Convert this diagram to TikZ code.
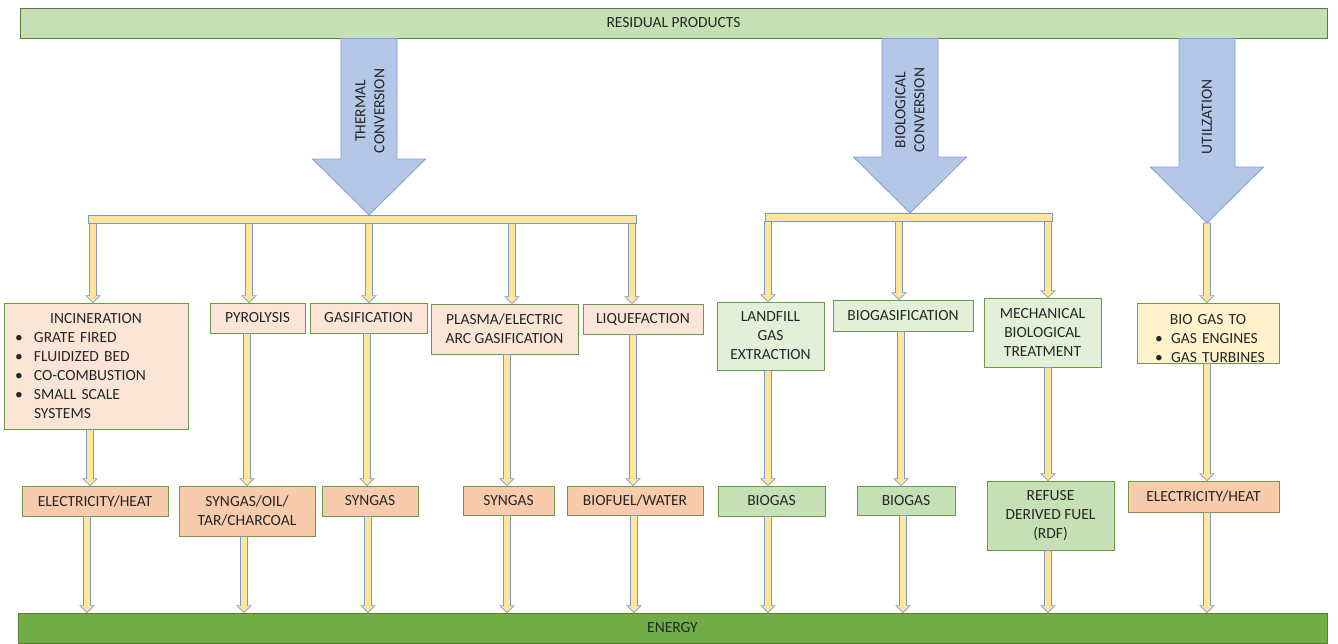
\documentclass[tikz,border=0pt]{standalone}
\usepackage{fontspec}
\setmainfont{Carlito}
\usepackage{tikz}
\usetikzlibrary{calc}
\definecolor{barfill}{HTML}{C5E0B4}
\definecolor{boxline}{HTML}{6A9A45}
\definecolor{thermfill}{HTML}{FBE5D6}
\definecolor{thermout}{HTML}{F8CBAD}
\definecolor{biofill}{HTML}{E2F0D9}
\definecolor{bioout}{HTML}{C5E0B4}
\definecolor{utilfill}{HTML}{FFF2CC}
\definecolor{energyfill}{HTML}{70AD47}
\definecolor{energyline}{HTML}{548235}
\definecolor{bigfill}{HTML}{B4C7E7}
\definecolor{bigline}{HTML}{7F9ED6}
\definecolor{thinfill}{HTML}{FFE699}
\definecolor{thinline}{HTML}{7F97C8}
\definecolor{textcol}{HTML}{262626}

\begin{document}
\begin{tikzpicture}[x=1pt, y=-1pt, font=\fontsize{15.5}{19}\selectfont, text=textcol]
        \tikzstyle{box} = [draw=boxline, line width=0.8pt, rectangle, inner sep=0pt, align=center]
        \tikzstyle{thbox} = [box, fill=thermfill]
        \tikzstyle{thout} = [box, fill=thermout]
        \tikzstyle{biobox} = [box, fill=biofill]
        \tikzstyle{bioout} = [box, fill=bioout]
        \tikzstyle{branchbar} = [draw=thinline, fill=thinfill, line width=0.8pt, rectangle, inner sep=0pt]
        \tikzstyle{thinarrow} = [draw=thinline, fill=thinfill, line width=0.7pt,
            to path={let \p1=(\tikztostart), \p2=(\tikztotarget) in
                (\x1-3.5pt,\y1) -- (\x1+3.5pt,\y1) -- (\x1+3.5pt,\y2+7pt) -- (\x1+7pt,\y2+7pt)
                -- (\x1,\y2) -- (\x1-7pt,\y2+7pt) -- (\x1-3.5pt,\y2+7pt) -- cycle}]
        \tikzstyle{bigarrow} = [draw=bigline, fill=bigfill, line width=0.8pt,
            to path={let \p1=(\tikztostart), \p2=(\tikztotarget) in
                (\x1-28pt,\y1) -- (\x1+28pt,\y1) -- (\x1+28pt,\y2+56pt) -- (\x1+56.5pt,\y2+56pt)
                -- (\x1,\y2) -- (\x1-56.5pt,\y2+56pt) -- (\x1-28pt,\y2+56pt) -- cycle}]
        \useasboundingbox (0,0) rectangle (1338,643);

        % top and bottom bars
        \node (res) [box, fill=barfill, draw=energyline, minimum width=1307, minimum height=30] at (673.5,23) {RESIDUAL PRODUCTS};
        \node (energy) [box, fill=energyfill, draw=energyline, minimum width=1309, minimum height=30] at (672.5,628) {ENERGY};

        % conversion routes
        \coordinate (thtip) at (369,215);
        \coordinate (biotip) at (910,213);
        \coordinate (utiltip) at (1207,223);
        \draw[bigarrow] (thtip |- res.south) to (thtip);
        \draw[bigarrow] (biotip |- res.south) to (biotip);
        \draw[bigarrow] (utiltip |- res.south) to (utiltip);
        \node (thlab) [rotate=90, align=center] at (370,111) {THERMAL\\CONVERSION};
        \node (biolab) [rotate=90, align=center] at (910,110) {BIOLOGICAL\\CONVERSION};
        \node (utillab) [rotate=90] at (1207,117) {UTILZATION};
        \node (thbar) [branchbar, minimum width=548, minimum height=8] at (362,219) {};
        \node (biobar) [branchbar, minimum width=287, minimum height=8] at (908.5,217) {};

        % processes
        \node (incin) [thbox, minimum width=184, minimum height=126, text width=170, align=left] at (96,366)
            {\makebox[\linewidth]{INCINERATION}\\
             \hspace*{4pt}\makebox[19pt][l]{\textbullet}GRATE FIRED\\
             \hspace*{4pt}\makebox[19pt][l]{\textbullet}FLUIDIZED BED\\
             \hspace*{4pt}\makebox[19pt][l]{\textbullet}CO-COMBUSTION\\
             \hspace*{4pt}\makebox[19pt][l]{\textbullet}SMALL SCALE\\
             \hspace*{23pt}SYSTEMS};
        \node (pyro) [thbox, minimum width=95, minimum height=30] at (257.5,318) {PYROLYSIS};
        \node (gasif) [thbox, minimum width=117, minimum height=30] at (368.5,318) {GASIFICATION};
        \node (plasma) [thbox, minimum width=147, minimum height=50] at (504.5,329) {PLASMA/ELECTRIC\\ARC GASIFICATION};
        \node (lique) [thbox, minimum width=120, minimum height=30] at (643,319) {LIQUEFACTION};
        \node (landfill) [biobox, minimum width=107, minimum height=68] at (770.5,336) {LANDFILL\\GAS\\EXTRACTION};
        \node (biogasif) [biobox, minimum width=140, minimum height=31] at (903,315.5) {BIOGASIFICATION};
        \node (mbt) [biobox, minimum width=117, minimum height=69] at (1042.5,332.5) {MECHANICAL\\BIOLOGICAL\\TREATMENT};
        \node (biogasto) [box, fill=utilfill, minimum width=142, minimum height=60, text width=128, align=left] at (1208,333)
            {\makebox[\linewidth]{\rule{0pt}{21pt}BIO GAS TO}\\
             \hspace*{11pt}\makebox[16pt][l]{\textbullet}GAS ENGINES\\
             \hspace*{11pt}\makebox[16pt][l]{\textbullet}GAS TURBINES};

        % products
        \node (elec1) [thout, minimum width=146, minimum height=30] at (95,501) {ELECTRICITY/HEAT};
        \node (syoil) [thout, minimum width=136, minimum height=50] at (247,511) {SYNGAS/OIL/\\TAR/CHARCOAL};
        \node (syn1) [thout, minimum width=96, minimum height=30] at (370,501) {SYNGAS};
        \node (syn2) [thout, minimum width=91, minimum height=29] at (508.5,500.5) {SYNGAS};
        \node (biofuel) [thout, minimum width=136, minimum height=29] at (635,500.5) {BIOFUEL/WATER};
        \node (biogas1) [bioout, minimum width=107, minimum height=30] at (771.5,501) {BIOGAS};
        \node (biogas2) [bioout, minimum width=98, minimum height=29] at (906,500.5) {BIOGAS};
        \node (rdf) [bioout, minimum width=127, minimum height=69] at (1050.5,515.5) {REFUSE\\DERIVED FUEL\\(RDF)};
        \node (elec2) [thout, minimum width=151, minimum height=31] at (1203.5,496.5) {ELECTRICITY/HEAT};

        % branch to process
        \draw[thinarrow] (93,0 |- thbar.south) to (incin.north);
        \draw[thinarrow] (249,0 |- thbar.south) to (pyro.north);
        \draw[thinarrow] (369,0 |- thbar.south) to (gasif.north);
        \draw[thinarrow] (512,0 |- thbar.south) to (plasma.north);
        \draw[thinarrow] (632,0 |- thbar.south) to (lique.north);
        \draw[thinarrow] (768,0 |- biobar.south) to (landfill.north);
        \draw[thinarrow] (899,0 |- biobar.south) to (biogasif.north);
        \draw[thinarrow] (1048,0 |- biobar.south) to (mbt.north);
        \draw[thinarrow] (utiltip) to (biogasto.north);

        % process to product
        \draw[thinarrow] (90,0 |- incin.south) to (elec1.north);
        \draw[thinarrow] (247,0 |- pyro.south) to (syoil.north);
        \draw[thinarrow] (367,0 |- gasif.south) to (syn1.north);
        \draw[thinarrow] (507,0 |- plasma.south) to (syn2.north);
        \draw[thinarrow] (633,0 |- lique.south) to (biofuel.north);
        \draw[thinarrow] (768,0 |- landfill.south) to (biogas1.north);
        \draw[thinarrow] (901,0 |- biogasif.south) to (biogas2.north);
        \draw[thinarrow] (1048,0 |- mbt.south) to (rdf.north);
        \draw[thinarrow] (1207,0 |- biogasto.south) to (elec2.north);

        % product to energy
        \draw[thinarrow] (87,0 |- elec1.south) to (energy.north);
        \draw[thinarrow] (244,0 |- syoil.south) to (energy.north);
        \draw[thinarrow] (368,0 |- syn1.south) to (energy.north);
        \draw[thinarrow] (507,0 |- syn2.south) to (energy.north);
        \draw[thinarrow] (634,0 |- biofuel.south) to (energy.north);
        \draw[thinarrow] (768,0 |- biogas1.south) to (energy.north);
        \draw[thinarrow] (903,0 |- biogas2.south) to (energy.north);
        \draw[thinarrow] (1048,0 |- rdf.south) to (energy.north);
        \draw[thinarrow] (1207,0 |- elec2.south) to (energy.north);
    \end{tikzpicture}
\end{document}
